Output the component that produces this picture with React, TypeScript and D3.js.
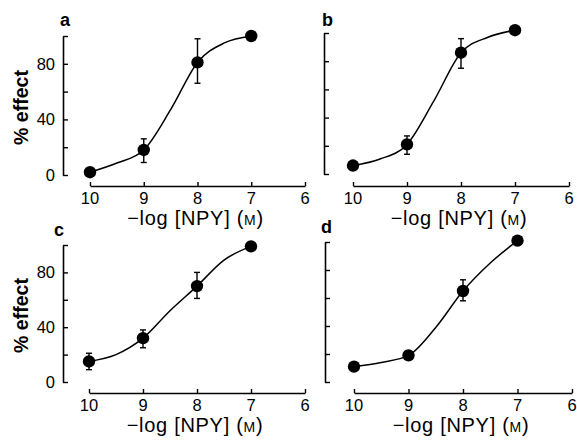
import { useEffect, useRef } from 'react';
import * as d3 from 'd3';

// doses (-log M) and mean % effect
const doses = [10, 9, 8, 7];
const xTicks = [10, 9, 8, 7, 6];
const yTicks = [0, 20, 40, 60, 80, 100];
const yLabelTicks = [0, 40, 80];

const effectA = [2, 18, 81, 100];
const upperA = [null, 26, 98, null];
const lowerA = [null, 9, 66, null];

const effectB = [6, 21, 86, 102];
const upperB = [null, 27, 96, null];
const lowerB = [null, 14, 75, null];

const effectC = [15, 32, 70, 99];
const upperC = [21, 38, 80, null];
const lowerC = [9, 25, 61, null];

const effectD = [11, 19, 65, 101];
const upperD = [null, null, 73, null];
const lowerD = [null, null, 58, null];

// fitted curves at half-log steps
const curveDoses = [10, 9.5, 9, 8.5, 8, 7.5, 7];
const fitA = [2, 8.6, 18, 47, 81, 95, 100];
const fitB = [6, 10.6, 21, 52, 86, 97, 102];
const fitC = [15, 20, 32, 52, 70, 89, 99];
const fitD = [11, 14, 19, 39, 65, 85, 101];

const FONT = '"Liberation Sans", Arial, Helvetica, sans-serif';

export default function App() {
  const svgRef = useRef<SVGSVGElement>(null);

  useEffect(() => {
    document.body.style.margin = '0';
    const svg = d3.select(svgRef.current);
    svg.selectAll('*').remove();

    const panels = [
      { id: 'a', effect: effectA, upper: upperA, lower: lowerA, fit: fitA, axisX: 63, x0: 90, x1: 305, yTop: 36, yBot: 175, xAxisY: 186, showY: true, lx: 60, ly: 26 },
      { id: 'b', effect: effectB, upper: upperB, lower: lowerB, fit: fitB, axisX: 324, x0: 353, x1: 569, yTop: 33, yBot: 174, xAxisY: 186, showY: false, lx: 322, ly: 26 },
      { id: 'c', effect: effectC, upper: upperC, lower: lowerC, fit: fitC, axisX: 63, x0: 89, x1: 305, yTop: 245, yBot: 382, xAxisY: 393, showY: true, lx: 54, ly: 236 },
      { id: 'd', effect: effectD, upper: upperD, lower: lowerD, fit: fitD, axisX: 325, x0: 354, x1: 572, yTop: 242, yBot: 382, xAxisY: 393, showY: false, lx: 321, ly: 233 },
    ];

    panels.forEach(p => {
      const g = svg.append('g');
      const x = d3.scaleLinear().domain([10, 6]).range([p.x0, p.x1]);
      const y = d3.scaleLinear().domain([0, 100]).range([p.yBot, p.yTop]);

      // y axis: ticks pointing inward
      const yAxis = g.append('g')
        .attr('transform', `translate(${p.axisX},0)`)
        .call(d3.axisRight(y).tickValues(yTicks).tickSize(5).tickSizeOuter(0).tickFormat(() => ''));
      yAxis.select('.domain').attr('stroke-width', 1.6);
      yAxis.selectAll('line').attr('stroke-width', 1.4);

      if (p.showY) {
        g.selectAll('.ylab')
          .data(yLabelTicks)
          .enter()
          .append('text')
          .attr('x', p.axisX - 8)
          .attr('y', d => y(d))
          .attr('dy', '0.36em')
          .attr('text-anchor', 'end')
          .style('font-family', FONT)
          .style('font-size', '16.5px')
          .text(d => d);

        g.append('text')
          .attr('transform', `translate(28,${(p.yTop + p.yBot) / 2 + 2}) rotate(-90)`)
          .attr('text-anchor', 'middle')
          .style('font-family', FONT)
          .style('font-size', '19.5px')
          .style('font-weight', 'bold')
          .text('% effect');
      }

      // x axis: ticks pointing upward
      const xAxis = g.append('g')
        .attr('transform', `translate(0,${p.xAxisY})`)
        .call(d3.axisTop(x).tickValues(xTicks).tickSize(4).tickSizeOuter(0).tickFormat(() => ''));
      xAxis.select('.domain').attr('stroke-width', 1.6);
      xAxis.selectAll('line').attr('stroke-width', 1.4);

      g.selectAll('.xlab')
        .data(xTicks)
        .enter()
        .append('text')
        .attr('x', d => x(d))
        .attr('y', p.xAxisY + 18)
        .attr('text-anchor', 'middle')
        .style('font-family', FONT)
        .style('font-size', '16.5px')
        .text(d => d);

      const title = g.append('text')
        .attr('x', x(8) - 2)
        .attr('y', p.xAxisY + 39)
        .attr('text-anchor', 'middle')
        .style('font-family', FONT)
        .style('font-size', '20px')
        .style('letter-spacing', '0.7px');
      title.append('tspan').text('\u2212log [NPY] (');
      title.append('tspan').style('font-size', '14px').text('M');
      title.append('tspan').text(')');

      g.append('text')
        .attr('x', p.lx)
        .attr('y', p.ly)
        .style('font-family', FONT)
        .style('font-size', '18px')
        .style('font-weight', 'bold')
        .text(p.id);

      // fitted curve
      const line = d3.line<number>()
        .x((_, i) => x(curveDoses[i]))
        .y(d => y(d))
        .curve(d3.curveMonotoneX);
      g.append('path')
        .datum(p.fit)
        .attr('fill', 'none')
        .attr('stroke', '#000')
        .attr('stroke-width', 1.5)
        .attr('d', line);

      // error bars
      doses.forEach((dose, i) => {
        const hi = p.upper[i];
        const lo = p.lower[i];
        if (hi == null || lo == null) return;
        const cx = x(dose);
        g.append('line')
          .attr('x1', cx).attr('x2', cx)
          .attr('y1', y(hi)).attr('y2', y(lo))
          .attr('stroke', '#000').attr('stroke-width', 1.4);
        [hi, lo].forEach(v => {
          g.append('line')
            .attr('x1', cx - 3).attr('x2', cx + 3)
            .attr('y1', y(v)).attr('y2', y(v))
            .attr('stroke', '#000').attr('stroke-width', 1.4);
        });
      });

      // points
      g.selectAll('.pt')
        .data(p.effect)
        .enter()
        .append('circle')
        .attr('cx', (_, i) => x(doses[i]))
        .attr('cy', d => y(d))
        .attr('r', 6.2)
        .attr('fill', '#000');
    });
  }, []);

  return (
    <svg ref={svgRef} width={577} height={440} style={{ display: 'block', background: '#fff' }} />
  );
}
